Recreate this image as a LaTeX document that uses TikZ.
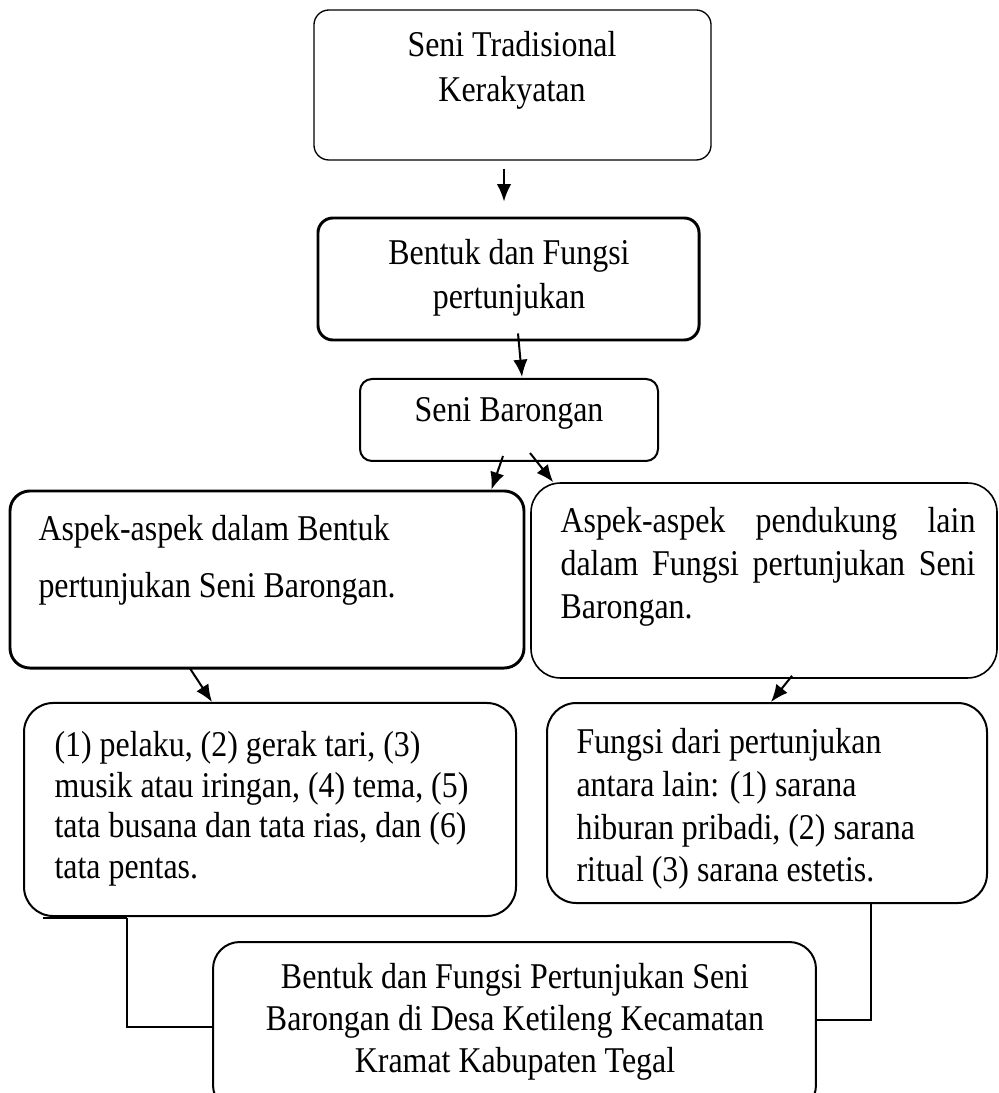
\documentclass[tikz,border=0pt]{standalone}
\usepackage{fontspec}
\setmainfont{Liberation Serif}[FakeStretch=0.88]
\usepackage{tikz}
\usetikzlibrary{arrows.meta}

\tikzset{
    kotak/.style={draw, rounded corners=#1, inner sep=0pt},
    teks/.style={inner sep=0pt, font=\fontsize{13.6}{#1}\selectfont},
    panah/.style={-{Latex[length=6.5pt,width=5.4pt]}, line width=0.75pt},
    garis/.style={line width=0.6pt}
}

\begin{document}
\begin{tikzpicture}[x=0.375pt, y=-0.375pt]
        \useasboundingbox (0,0) rectangle (998,1093);

        \node[kotak=5.6pt, line width=0.5pt, minimum width=148.9pt, minimum height=56.25pt] (b1) at (512.5,85) {};
        \node[kotak=5.6pt, line width=1.1pt, minimum width=142.9pt, minimum height=45.75pt] (b2) at (508.5,279) {};
        \node[kotak=4.5pt, line width=0.75pt, minimum width=111.75pt, minimum height=30.75pt] (b3) at (509,420) {};
        \node[kotak=7.5pt, line width=1.1pt, minimum width=192.75pt, minimum height=66.4pt] (b4) at (267,579.5) {};
        \node[kotak=11pt, line width=0.6pt, minimum width=174.75pt, minimum height=73.1pt] (b5) at (764,580.5) {};
        \node[kotak=11pt, line width=0.75pt, minimum width=184.5pt, minimum height=79.9pt] (b6) at (270,809.5) {};
        \node[kotak=11pt, line width=0.75pt, minimum width=165pt, minimum height=75pt] (b7) at (767,803) {};
        \node[kotak=10pt, line width=0.75pt, minimum width=226.1pt, minimum height=63.75pt] (b8) at (514.5,1027) {};

        \node[teks=16.9pt, align=center] (t1) at (512,70) {Seni Tradisional\\Kerakyatan};
        \node[teks=16.5pt, align=center] (t2) at (509,278) {Bentuk dan Fungsi\\pertunjukan};
        \node[teks=15pt, align=center] (t3) at (509,413) {Seni Barongan};
        \node[teks=21.4pt, align=left, anchor=north west] (t4) at (38,515) {Aspek-aspek dalam Bentuk\\pertunjukan Seni Barongan.};
        \node[teks=16pt, text width=155.6pt, align=left, anchor=north west] (t5) at (560,507)
            {Aspek-aspek\hfill pendukung\hfill lain\\dalam\hfill Fungsi\hfill pertunjukan\hfill Seni\\Barongan.};
        \node[teks=15.2pt, align=left, anchor=north west] (t6) at (54,731)
            {(1) pelaku, (2) gerak tari, (3)\\musik atau iringan, (4) tema, (5)\\tata busana dan tata rias, dan (6)\\tata pentas.};
        \node[teks=16pt, align=left, anchor=north west] (t7) at (576,728)
            {Fungsi dari pertunjukan\\antara lain: (1) sarana\\hiburan pribadi, (2) sarana\\ritual (3) sarana estetis.};
        \node[teks=15.75pt, align=center] (t8) at (515,1022)
            {Bentuk dan Fungsi Pertunjukan Seni\\Barongan di Desa Ketileng Kecamatan\\Kramat Kabupaten Tegal};

        % panah antar kotak
        \draw[panah] ([shift={(-8.5,8)}]b1.south) -- ([shift={(-4.5,-15)}]b2.north);
        \draw[panah] ([shift={(9.5,-8)}]b2.south) -- ([shift={(13,-1)}]b3.north);
        \draw[panah] ([shift={(-6,-6)}]b3.south) -- ([shift={(-34,0)}]b4.north east);
        \draw[panah] ([shift={(21,-9)}]b3.south) -- ([shift={(23,0)}]b5.north west);
        \draw[panah] ([shift={(-77,-1)}]b4.south) -- ([shift={(-58,0)}]b6.north);
        \draw[panah] ([shift={(28,-3)}]b5.south) -- ([shift={(4,0)}]b7.north);

        % garis ke kotak bawah
        \draw[line width=0.9pt] ([shift={(-227,1)}]b6.south) -- ([shift={(-143,1)}]b6.south);
        \draw[garis] ([shift={(-143,1)}]b6.south) |- (b8.west);
        \draw[garis] ([shift={(104,0)}]b7.south) |- ([shift={(0,-7)}]b8.east);
    \end{tikzpicture}
\end{document}
